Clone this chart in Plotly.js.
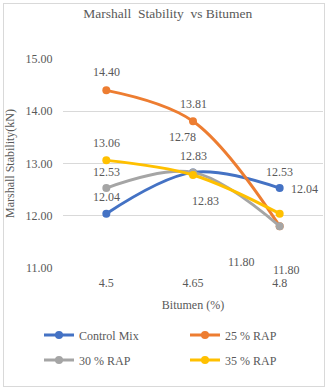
<!DOCTYPE html>
<html><head><meta charset="utf-8">
<script src="https://cdn.plot.ly/plotly-3.0.1.min.js"></script>
<style>
html,body{margin:0;padding:0;background:#fff;}
#chart{position:absolute;left:0;top:0;width:329px;height:391px;}
#frame{position:absolute;left:3px;top:3px;width:320px;height:382px;border:1px solid #d9d9d9;pointer-events:none;}
</style></head>
<body>
<div id="chart"></div>
<div id="frame"></div>
<script>
const categories = ['4.5', '4.65', '4.8'];
const seriesNames = ['Control Mix', '25 % RAP', '30 % RAP', '35 % RAP'];
const controlMix = [12.04, 12.83, 12.53];
const rap25 = [14.40, 13.81, 11.80];
const rap30 = [12.53, 12.83, 11.80];
const rap35 = [13.06, 12.78, 12.04];
const yTicks = [11, 12, 13, 14, 15];

const seriesValues = [controlMix, rap25, rap30, rap35];
const colors = ['#4472C4', '#ED7D31', '#A5A5A5', '#FFC000'];
const legendIds = ['legend', 'legend2', 'legend3', 'legend4'];
// legend slot positions in pixels [left, centerY]
const legendSlots = [[39, 335], [185, 335], [39, 360], [185, 360]];
// label pixel offsets [dx, dy(down)] per series per point
const labelOffsets = [
  [[0,-17],[0,-16],[0,-16]],
  [[0,-18],[0,-17],[-38,36]],
  [[0,-16],[12,29],[7,44]],
  [[0,-17],[-11,-38],[25,-25]]
];
const textColor = '#595959';
const font = '"Liberation Serif", "Times New Roman", serif';
const plotL = 63, plotT = 59, plotW = 260, plotH = 209;

const traces = seriesValues.map((vals, i) => ({
  type: 'scatter', mode: 'lines+markers',
  x: categories, y: vals, name: seriesNames[i],
  legend: legendIds[i],
  line: {color: colors[i], width: 3, shape: 'spline', smoothing: 1},
  marker: {color: colors[i], size: 8},
  hoverinfo: 'x+y'
}));

const annotations = [];
seriesValues.forEach((vals, i) => {
  vals.forEach((v, j) => {
    annotations.push({
      x: j, y: v, xref: 'x', yref: 'y',
      text: v.toFixed(2), showarrow: false,
      xshift: labelOffsets[i][j][0], yshift: -labelOffsets[i][j][1],
      font: {family: font, size: 12, color: textColor}
    });
  });
});

const layout = {
  width: 329, height: 391,
  margin: {l: plotL, r: 329 - plotL - plotW, t: plotT, b: 391 - plotT - plotH},
  paper_bgcolor: '#fff', plot_bgcolor: '#fff',
  font: {family: font, size: 12, color: textColor},
  title: {text: 'Marshall\u00a0 Stability\u00a0 vs Bitumen', font: {family: font, size: 13.5, color: textColor}, x: 0.51, xanchor: 'center', y: 0.965, yanchor: 'middle'},
  xaxis: {
    type: 'category', range: [-0.5, 2.5], showgrid: false, zeroline: false,
    showline: false, ticks: 'outside', ticklen: 4, tickcolor: 'rgba(0,0,0,0)',
    tickfont: {family: font, size: 12, color: textColor},
    title: {text: 'Bitumen (%)', font: {family: font, size: 12, color: textColor}, standoff: 11}
  },
  yaxis: {
    range: [11, 15], tickvals: yTicks, ticktext: yTicks.map(t => t.toFixed(2)),
    showgrid: true, gridcolor: '#d9d9d9', gridwidth: 1, zeroline: false, showline: false,
    ticks: 'outside', ticklen: 7, tickcolor: 'rgba(0,0,0,0)',
    tickfont: {family: font, size: 12, color: textColor},
    title: {text: 'Marshall Stability(kN)', font: {family: font, size: 12, color: textColor}, standoff: 8}
  },
  showlegend: true,
  annotations: annotations
};
legendIds.forEach((id, i) => {
  layout[id] = {
    orientation: 'h', xanchor: 'left', yanchor: 'middle',
    x: (legendSlots[i][0] - plotL) / plotW,
    y: (plotT + plotH - legendSlots[i][1]) / plotH,
    bgcolor: 'rgba(0,0,0,0)',
    font: {family: font, size: 12, color: textColor}
  };
});

Plotly.newPlot('chart', traces, layout, {displayModeBar: false, staticPlot: true});
</script>
</body></html>
